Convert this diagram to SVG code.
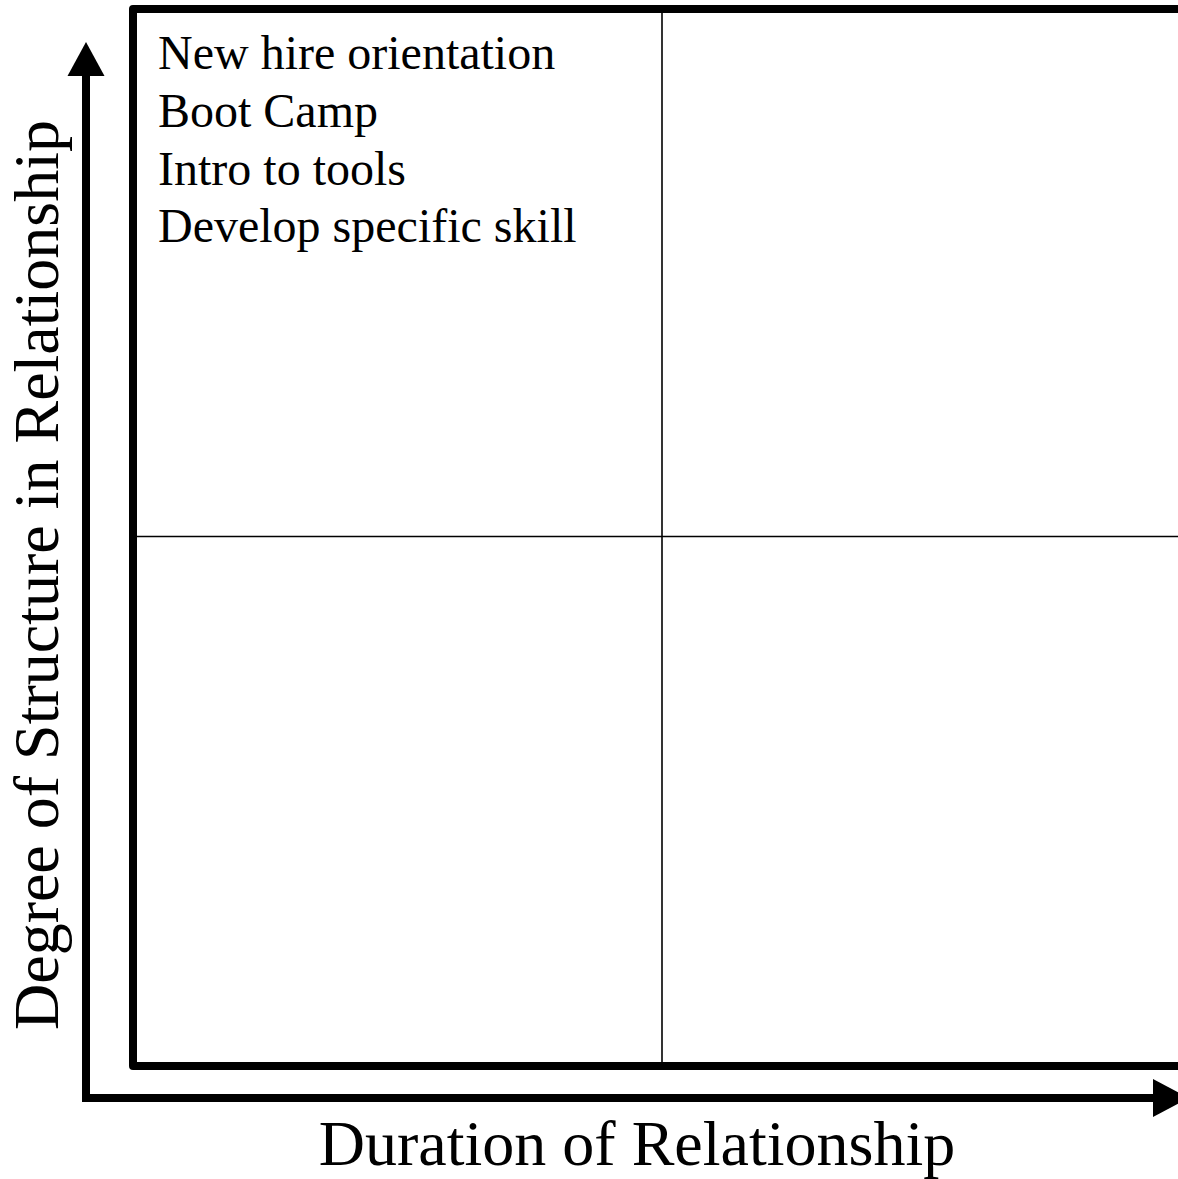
<svg xmlns="http://www.w3.org/2000/svg" width="1178" height="1179" viewBox="0 0 1178 1179">
<style>
.lbl{font-family:"Liberation Serif","Times New Roman",serif;fill:#000}
.item{font-size:48px}
.axis{font-size:64px}
.thick{fill:none;stroke:#000;stroke-width:8}
.thin{fill:none;stroke:#000;stroke-width:1.6}
</style>
<rect width="1178" height="1179" fill="#fff"/>
<g id="connectors">
<path class="thick" d="M86,76 V1098 H1153" stroke-linejoin="miter"/>
<polygon points="86,42 67.5,76 104.5,76" fill="#000"/>
<polygon points="1153,1079 1153,1117 1189,1098" fill="#000"/>
</g>
<g id="matrix">
<path class="thick" d="M1190,9 H133 V1066 H1190" stroke-linejoin="round"/>
<line class="thin" x1="662" y1="9" x2="662" y2="1066"/>
<line class="thin" x1="133" y1="536.5" x2="1178" y2="536.5" stroke="#222"/>
</g>
<g id="quadrant-top-left">
<text class="lbl item" x="158" y="69">New hire orientation</text>
<text class="lbl item" x="158" y="127">Boot Camp</text>
<text class="lbl item" x="158" y="184.5">Intro to tools</text>
<text class="lbl item" x="158" y="242">Develop specific skill</text>
</g>
<g id="x-axis-label">
<text class="lbl axis" x="637" y="1165" text-anchor="middle">Duration of Relationship</text>
</g>
<g id="y-axis-label">
<text class="lbl axis" transform="translate(58,575) rotate(-90)" text-anchor="middle">Degree of Structure in Relationship</text>
</g>
</svg>
